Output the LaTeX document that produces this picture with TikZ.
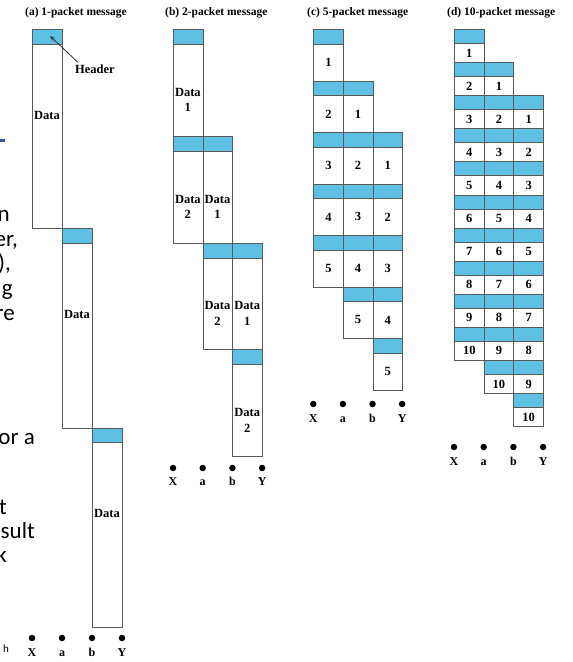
\documentclass[tikz,border=0pt]{standalone}
\usepackage{fontspec}
\setmainfont{Liberation Serif}
\newfontfamily\slidefont{Carlito}
\usetikzlibrary{arrows.meta}
\definecolor{hdrblue}{RGB}{94,193,228}
\definecolor{boxline}{RGB}{90,90,90}
\definecolor{slideblue}{RGB}{47,85,151}
\begin{document}
\begin{tikzpicture}[x=1pt,y=-1pt,
  cell/.style={rectangle, draw=boxline, line width=0.8pt, inner sep=0pt, anchor=north west},
  hdr/.style={cell, fill=hdrblue},
  dat/.style={cell, fill=white},
  lab/.style={font=\fontsize{12.5}{15.5}\selectfont\bfseries, align=center, inner sep=0pt},
  ttl/.style={font=\fontsize{11.5}{14}\selectfont\bfseries, anchor=west, inner sep=0pt},
  pdot/.style={circle, fill=black, minimum size=6.5pt, inner sep=0pt},
  hop/.style={font=\fontsize{12}{14}\selectfont\bfseries, inner sep=0pt, anchor=base},
  frag/.style={font=\slidefont\fontsize{23}{28}\selectfont, anchor=mid east, inner sep=0pt}
]
\useasboundingbox (0,0) rectangle (573,662);
\fill[white] (0,0) rectangle (573,662);

% ---- slide text fragments at left edge ----
\fill[slideblue] (0,138.5) rectangle (5,141.5);
\node[frag] (f1) at (10,219) {n};
\node[frag] (f2) at (18,244) {er,};
\node[frag] (f3) at (11,268) {),};
\node[frag] (f4) at (13,293) {g};
\node[frag] (f5) at (15,318) {re};
\node[frag] (f6) at (35,442) {or a};
\node[frag] (f7) at (7,512) {t};
\node[frag] (f8) at (35,536) {sult};
\node[frag] (f9) at (7,560) {k};
\node[frag, font=\slidefont\fontsize{11}{13}\selectfont] (f10) at (9,650) {h};

% ---- (a) 1-packet message ----
\node[ttl] (a-title) at (25,13) {(a) 1-packet message};
\foreach \h in {1,2,3} {
  \pgfmathsetmacro\xl{32+(\h-1)*30}
  \pgfmathsetmacro\yt{29+(\h-1)*199.3}
  \node[hdr, minimum width=30pt, minimum height=14.5pt] (a-h\h) at (\xl,\yt) {};
  \node[dat, minimum width=30pt, minimum height=184.8pt] (a-d\h) at (\xl,\yt+14.5) {};
  \node[lab] (a-l\h) at (\xl+15,\yt+86) {Data};
}
\node[lab] (a-hl) at (95,69) {Header};
\coordinate (a-hp) at (50,36);
\draw[boxline!60!black, line width=0.8pt, -{Stealth[length=5pt,width=4pt]}]
  ([xshift=3pt,yshift=2pt]a-hl.north west) -- (a-hp);
\foreach \n [count=\i from 0] in {X,a,b,Y} {
  \node[pdot] (a-dot\n) at (32+\i*30,638) {};
  \node[hop] (a-lab\n) at (32+\i*30,656) {\n};
}

% ---- (b) 2-packet message ----
\node[ttl] (b-title) at (165,13) {(b) 2-packet message};
\foreach \j in {1,2} {
  \foreach \h in {1,2,3} {
    \pgfmathsetmacro\xl{173+(\h-1)*29.7}
    \pgfmathsetmacro\yt{29+(\j+\h-2)*106.75}
    \node[hdr, minimum width=29.7pt, minimum height=15pt] (b-h\j-\h) at (\xl,\yt) {};
    \node[dat, minimum width=29.7pt, minimum height=91.75pt] (b-d\j-\h) at (\xl,\yt+15) {};
    \node[lab] (b-l\j-\h) at (\xl+14.85,\yt+71) {Data\\\j};
  }
}
\foreach \n [count=\i from 0] in {X,a,b,Y} {
  \node[pdot] (b-dot\n) at (173+\i*29.7,468) {};
  \node[hop] (b-lab\n) at (173+\i*29.7,485) {\n};
}

% ---- (c) 5-packet message ----
\node[ttl] (c-title) at (307,13) {(c) 5-packet message};
\foreach \j in {1,...,5} {
  \foreach \h in {1,2,3} {
    \pgfmathsetmacro\xl{313.3+(\h-1)*29.6}
    \pgfmathsetmacro\yt{29+(\j+\h-2)*51.5}
    \node[hdr, minimum width=29.6pt, minimum height=14.5pt] (c-h\j-\h) at (\xl,\yt) {};
    \node[dat, minimum width=29.6pt, minimum height=37pt] (c-d\j-\h) at (\xl,\yt+14.5) {};
    \node[lab] (c-l\j-\h) at (c-d\j-\h.center) {\j};
  }
}
\foreach \n [count=\i from 0] in {X,a,b,Y} {
  \node[pdot] (c-dot\n) at (313.3+\i*29.6,404) {};
  \node[hop] (c-lab\n) at (313.3+\i*29.6,422) {\n};
}

% ---- (d) 10-packet message ----
\node[ttl] (d-title) at (447,13) {(d) 10-packet message};
\foreach \j in {1,...,10} {
  \foreach \h in {1,2,3} {
    \pgfmathsetmacro\xl{454+(\h-1)*29.7}
    \pgfmathsetmacro\yt{29+(\j+\h-2)*33.1}
    \node[hdr, minimum width=29.7pt, minimum height=14pt] (d-h\j-\h) at (\xl,\yt) {};
    \node[dat, minimum width=29.7pt, minimum height=19.1pt] (d-d\j-\h) at (\xl,\yt+14) {};
    \node[lab] (d-l\j-\h) at (d-d\j-\h.center) {\j};
  }
}
\foreach \n [count=\i from 0] in {X,a,b,Y} {
  \node[pdot] (d-dot\n) at (454+\i*29.7,447) {};
  \node[hop] (d-lab\n) at (454+\i*29.7,465) {\n};
}
\end{tikzpicture}
\end{document}
